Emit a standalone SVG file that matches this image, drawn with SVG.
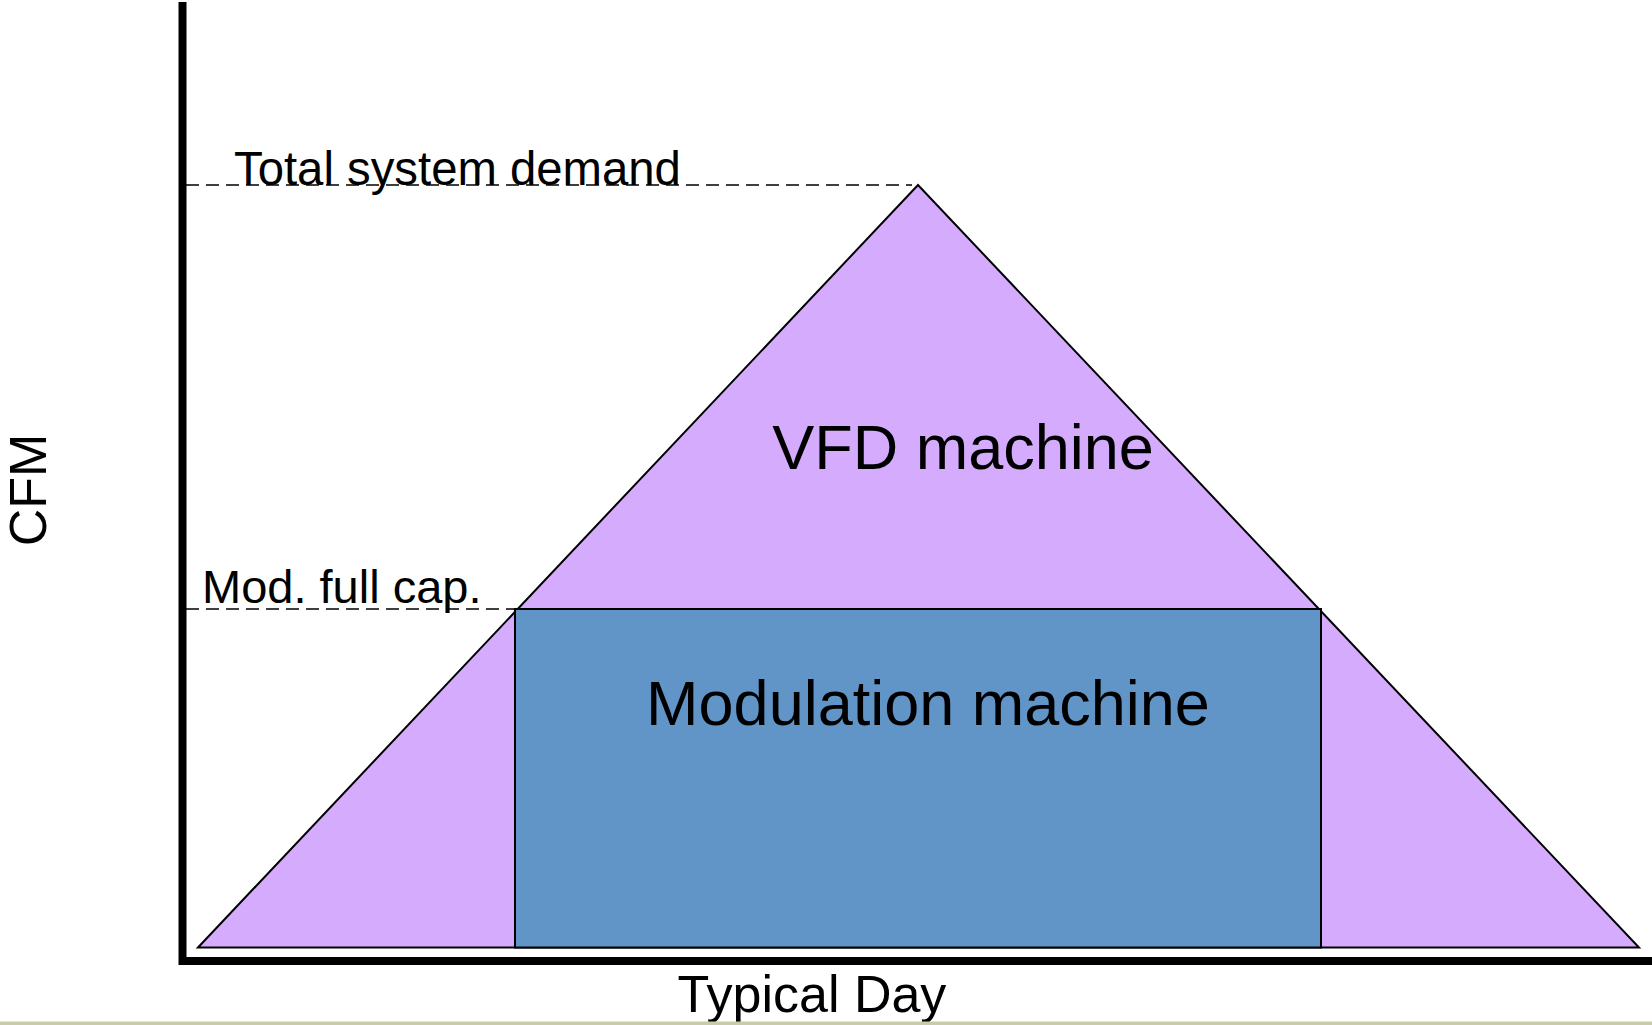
<svg xmlns="http://www.w3.org/2000/svg" width="1652" height="1025" viewBox="0 0 1652 1025">
<style>
.lbl{font-family:"Liberation Sans",Arial,sans-serif;fill:#000}
.dash{stroke:#000;stroke-width:1.5;stroke-dasharray:13 7;fill:none}
</style>
<rect x="0" y="0" width="1652" height="1025" fill="#fff"/>
<g id="vfd-machine">
<polygon points="198,947.5 918,185 1639,947.5" fill="#d5abfe" stroke="#000" stroke-width="2"/>
<text class="lbl" x="963" y="469" font-size="63" text-anchor="middle">VFD machine</text>
</g>
<g id="modulation-machine">
<rect x="515" y="609" width="806" height="338.5" fill="#6195c8" stroke="#000" stroke-width="2"/>
<text class="lbl" x="928" y="725" font-size="63" text-anchor="middle">Modulation machine</text>
</g>
<g id="connectors">
<line class="dash" x1="186" y1="185" x2="912" y2="185"/>
<line class="dash" x1="186" y1="609" x2="515" y2="609"/>
<polyline points="182.5,2 182.5,961 1652,961" fill="none" stroke="#000" stroke-width="8"/>
</g>
<g id="labels">
<text class="lbl" x="234" y="185" font-size="47.3">Total system demand</text>
<text class="lbl" x="202" y="603" font-size="47">Mod. full cap.</text>
<text class="lbl" x="812" y="1012" font-size="52" text-anchor="middle">Typical Day</text>
<text class="lbl" transform="translate(46,490) rotate(-90)" font-size="52" text-anchor="middle">CFM</text>
</g>
<rect x="0" y="1021.5" width="1652" height="3.5" fill="#c9cba9"/>
</svg>
